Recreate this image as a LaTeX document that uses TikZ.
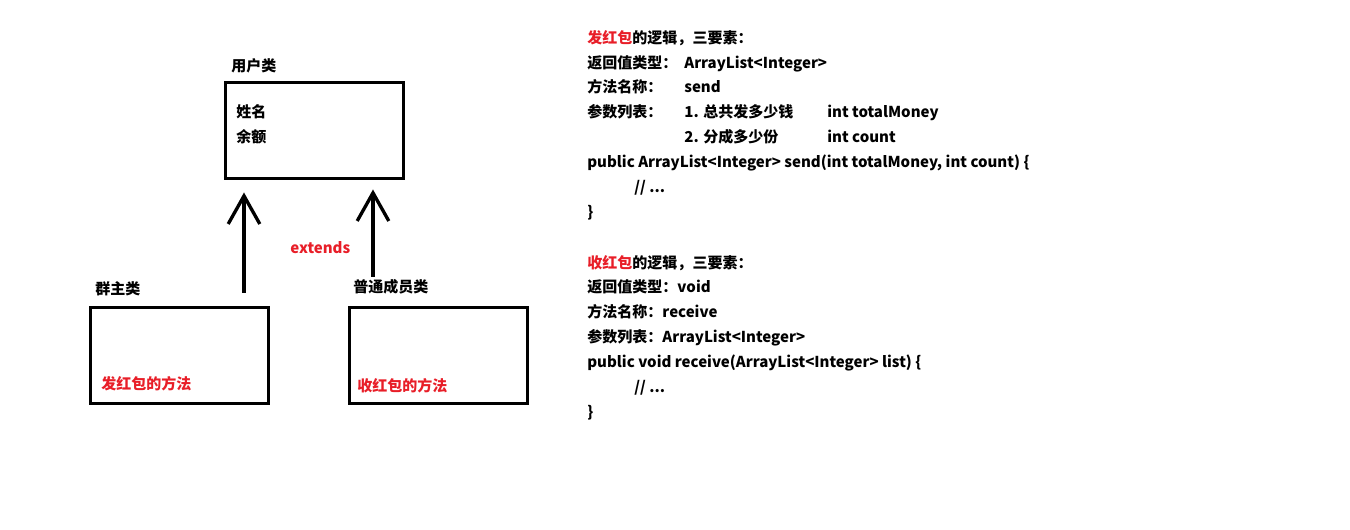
\documentclass[tikz,border=0pt]{standalone}
\usepackage{fontspec}
\setmainfont{Noto Sans CJK SC}
\usetikzlibrary{arrows.meta, positioning}
\definecolor{hbred}{RGB}{232,30,40}
\tikzset{
  cls/.style={draw, line width=1.7pt, minimum width=3.56cm, minimum height=1.94cm, inner sep=0pt},
  txt/.style={anchor=base west, inner sep=0pt, font=\bfseries\fontsize{8.55}{10}\selectfont},
  redtxt/.style={txt, text=hbred},
  inherit/.style={line width=1.9pt, -{Straight Barb[length=16pt, width=18pt]}},
}
\begin{document}
\begin{tikzpicture}[x=0.02cm, y=-0.02cm]
\useasboundingbox (0,0) rectangle (1350,530);

% classes
\node[cls] (user) at (314.5,130.5) {};
\node[cls] (owner) at (179.5,355.5) {};
\node[cls] (member) at (438.5,355.5) {};

\node[txt] (userT) at (231,72) {用户类};
\node[txt] (name) at (236,118) {姓名};
\node[txt] (bal) at (236,143) {余额};
\node[txt] (ownerT) at (95,295) {群主类};
\node[redtxt] (ownerM) at (101,390) {发红包的方法};
\node[txt] (memberT) at (353,293) {普通成员类};
\node[redtxt] (memberM) at (357,392) {收红包的方法};
\node[redtxt] (ext) at (290,254) {extends};

% extends arrows
\coordinate (a1) at (244,293);
\coordinate (a2) at (373,277);
\draw[inherit, shorten >=0.24cm] (a1) -- (a1 |- user.south);
\draw[inherit, shorten >=0.18cm] (a2) -- (a2 |- user.south);

% send
\node[txt] (sendH) at (587,44) {\textcolor{hbred}{发红包}的逻辑，三要素：};
\node[txt] (sendR) at (587,69) {返回值类型：};
\node[txt] (sendRv) at (684,69) {ArrayList<Integer>};
\node[txt] (sendN) at (587,93) {方法名称：};
\node[txt] (sendNv) at (684,93) {send};
\node[txt] (sendP) at (587,118) {参数列表：};
\node[txt] (sendP1) at (684,118) {1. 总共发多少钱};
\node[txt] (sendP1t) at (827,118) {int totalMoney};
\node[txt] (sendP2) at (684,143) {2. 分成多少份};
\node[txt] (sendP2t) at (827,143) {int count};
\node[txt] (sendSig) at (587,168) {public ArrayList<Integer> send(int totalMoney, int count) \{};
\node[txt] (sendBody) at (634,193) {// ...};
\node[txt] (sendEnd) at (587,218) {\}};

% receive
\node[txt] (recvH) at (587,269) {\textcolor{hbred}{收红包}的逻辑，三要素：};
\node[txt] (recvR) at (587,293) {返回值类型：void};
\node[txt] (recvN) at (587,318) {方法名称：receive};
\node[txt] (recvP) at (587,343) {参数列表：ArrayList<Integer>};
\node[txt] (recvSig) at (587,368) {public void receive(ArrayList<Integer> list) \{};
\node[txt] (recvBody) at (634,393) {// ...};
\node[txt] (recvEnd) at (587,418) {\}};
\end{tikzpicture}
\end{document}
